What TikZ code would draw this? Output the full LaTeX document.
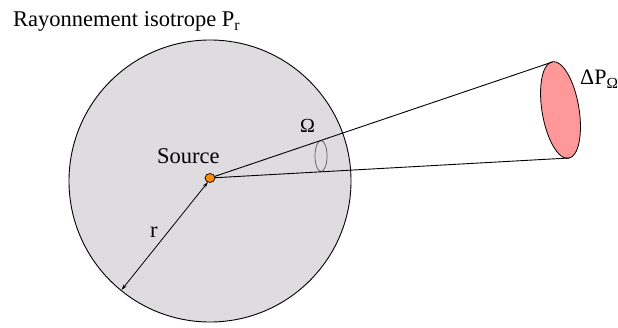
\documentclass[tikz,border=0pt]{standalone}
\usepackage{fontspec}
\setmainfont{Liberation Serif}
\usetikzlibrary{arrows.meta,shapes.geometric}
\definecolor{diskgray}{RGB}{222,220,222}
\definecolor{conepink}{RGB}{255,153,153}
\definecolor{srcorange}{RGB}{255,140,0}
\definecolor{omgray}{RGB}{90,90,90}
\tikzset{
  lbl/.style={inner sep=0pt, anchor=base west, font=\fontsize{22.5}{26}\selectfont},
  dplbl/.style={inner sep=0pt, anchor=base west, font=\fontsize{22}{26}\selectfont},
  omlbl/.style={inner sep=0pt, anchor=base west, font=\fontsize{20}{24}\selectfont},
  ray/.style={draw=black, line width=0.9pt},
  rarrow/.style={draw=black, line width=0.8pt, {Stealth[length=6pt,width=3.5pt]}-{Stealth[length=6pt,width=3.5pt]}}
}
\begin{document}
\begin{tikzpicture}[x=1pt,y=1pt]
\useasboundingbox (0,0) rectangle (618,327);
% sphere
\node[circle, draw=black, line width=0.9pt, fill=diskgray, minimum size=282pt, inner sep=0pt] (sphere) at (210,146) {};
% pink ellipse
\begin{scope}[shift={(560.5,217)}, rotate=9.5]
  \draw[fill=conepink, draw=black, line width=0.8pt] (0,0) ellipse (18.5 and 49);
\end{scope}
\coordinate (etop) at (552.5,265);
\coordinate (ebot) at (569,169);
% small solid angle ellipse
\node[ellipse, draw=omgray, line width=0.7pt, minimum width=12pt, minimum height=31pt, inner sep=0pt] (om) at (321,171) {};
% source
\coordinate (sc) at (210,149);
\draw[ray] (sc) -- (etop);
\draw[ray] (sc) -- (ebot);
\node[ellipse, draw=black, fill=srcorange, line width=0.7pt, minimum width=10pt, minimum height=9pt, inner sep=0pt] (src) at (sc) {};
% radius arrow
\coordinate (rs) at (208,145);
\coordinate (redge) at (121.5,37);
\draw[rarrow] (rs) -- (redge);
% labels
\node[lbl] (title) at (13,300) {Rayonnement isotrope P\textsubscript{r}};
\node[lbl] (source) at (157,164) {Source};
\node[omlbl] (omega) at (300,194) {Ω};
\node[dplbl] (dp) at (580,242) {ΔP\textsubscript{Ω}};
\node[lbl] (r) at (150,89.7) {r};
\end{tikzpicture}
\end{document}
